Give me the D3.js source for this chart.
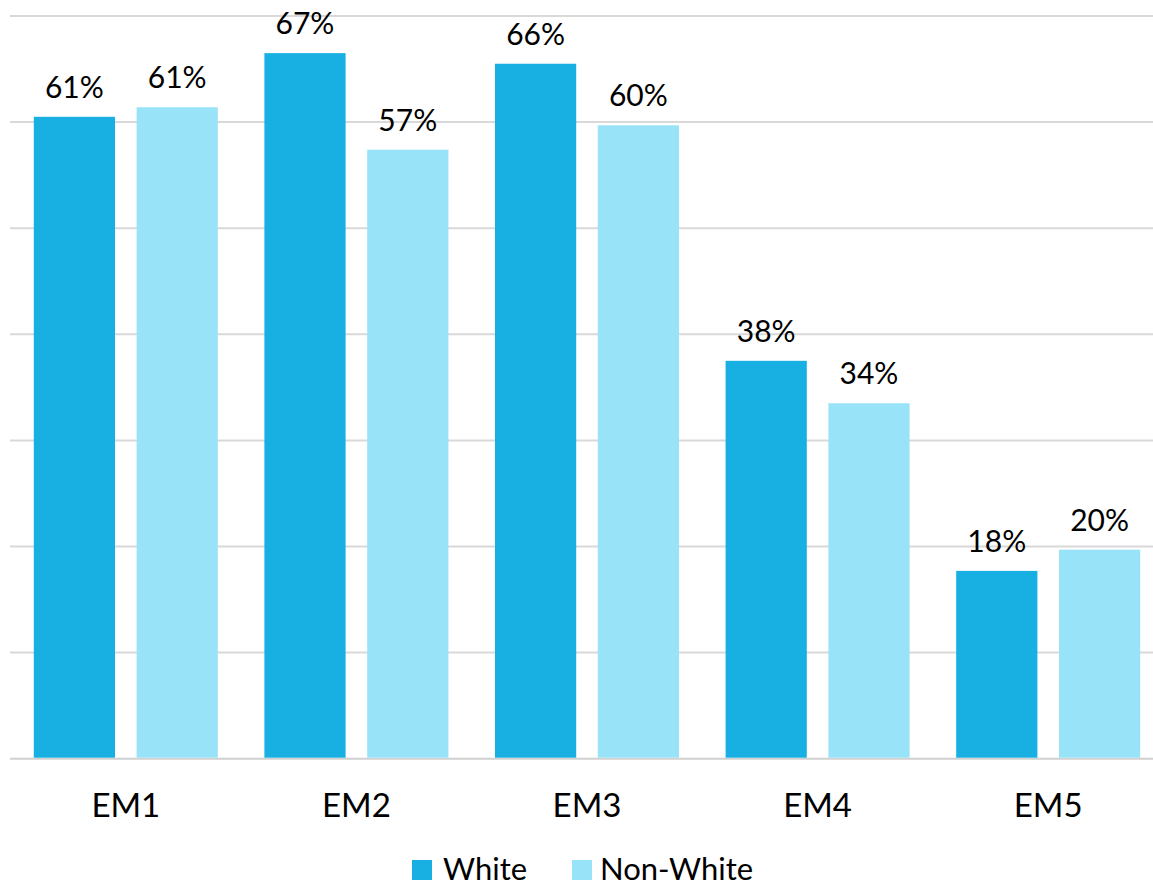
<!DOCTYPE html>
<html>
<head>
<meta charset="utf-8">
<script src="https://cdn.jsdelivr.net/npm/d3@7"></script>
<style>
  html, body { margin: 0; padding: 0; background: #fff; }
  svg { display: block; }
  text { font-family: Lato, "Open Sans", sans-serif; fill: #000; }
</style>
</head>
<body>
<svg id="chart" width="1153" height="887"></svg>
<script>
const categories = ["EM1", "EM2", "EM3", "EM4", "EM5"];
const seriesNames = ["White", "Non-White"];
const whiteValues = [60.5, 66.5, 65.5, 37.5, 17.7];
const nonWhiteValues = [61.4, 57.4, 59.7, 33.5, 19.7];
const whiteLabels = ["61%", "67%", "66%", "38%", "18%"];
const nonWhiteLabels = ["61%", "57%", "60%", "34%", "20%"];
const gridTicks = [0, 10, 20, 30, 40, 50, 60, 70];
const colors = ["#18B0E2", "#99E3F9"];

const svg = d3.select("#chart");
const W = 1153, H = 887;
const plotLeft = 10.5, plotRight = 1163.5, plotTop = 16, plotBottom = 758.7;

const x0 = d3.scaleBand().domain(categories).range([plotLeft, plotRight]).padding(0);
const gw = x0.bandwidth();
const x1 = d3.scaleBand().domain(seriesNames).range([gw * 0.101, gw * 0.899]).paddingInner(0.21).paddingOuter(0);
const y = d3.scaleLinear().domain([0, 70]).range([plotBottom, plotTop]);

// gridlines
svg.append("g").selectAll("line").data(gridTicks).join("line")
  .attr("x1", 10).attr("x2", W)
  .attr("y1", d => y(d)).attr("y2", d => y(d))
  .attr("stroke", d => d === 0 ? "#D0D0D0" : "#D9D9D9")
  .attr("stroke-width", 2);

const data = categories.map((c, i) => ({
  cat: c,
  vals: [
    { s: seriesNames[0], v: whiteValues[i], label: whiteLabels[i], color: colors[0] },
    { s: seriesNames[1], v: nonWhiteValues[i], label: nonWhiteLabels[i], color: colors[1] }
  ]
}));

const groups = svg.append("g").selectAll("g").data(data).join("g")
  .attr("transform", d => `translate(${x0(d.cat)},0)`);

groups.selectAll("rect").data(d => d.vals).join("rect")
  .attr("x", d => x1(d.s))
  .attr("width", x1.bandwidth())
  .attr("y", d => y(d.v))
  .attr("height", d => y(0) - y(d.v) - 1)
  .attr("fill", d => d.color);

groups.selectAll("text.lbl").data(d => d.vals).join("text")
  .attr("class", "lbl")
  .attr("x", d => x1(d.s) + x1.bandwidth() / 2)
  .attr("y", d => y(d.v) - 19)
  .attr("text-anchor", "middle")
  .attr("font-size", 30)
  .text(d => d.label);

// category axis labels
svg.append("g").selectAll("text").data(categories).join("text")
  .attr("x", d => x0(d) + gw / 2)
  .attr("y", 817)
  .attr("text-anchor", "middle")
  .attr("font-size", 33)
  .text(d => d);

// legend
const legend = svg.append("g");
const legendItems = [
  { name: seriesNames[0], color: colors[0], sx: 412, tx: 443 },
  { name: seriesNames[1], color: colors[1], sx: 572, tx: 600 }
];
legend.selectAll("rect").data(legendItems).join("rect")
  .attr("x", d => d.sx).attr("y", 860).attr("width", 20).attr("height", 20)
  .attr("fill", d => d.color);
legend.selectAll("text").data(legendItems).join("text")
  .attr("x", d => d.tx).attr("y", 880)
  .attr("font-size", 31)
  .text(d => d.name);
</script>
</body>
</html>
